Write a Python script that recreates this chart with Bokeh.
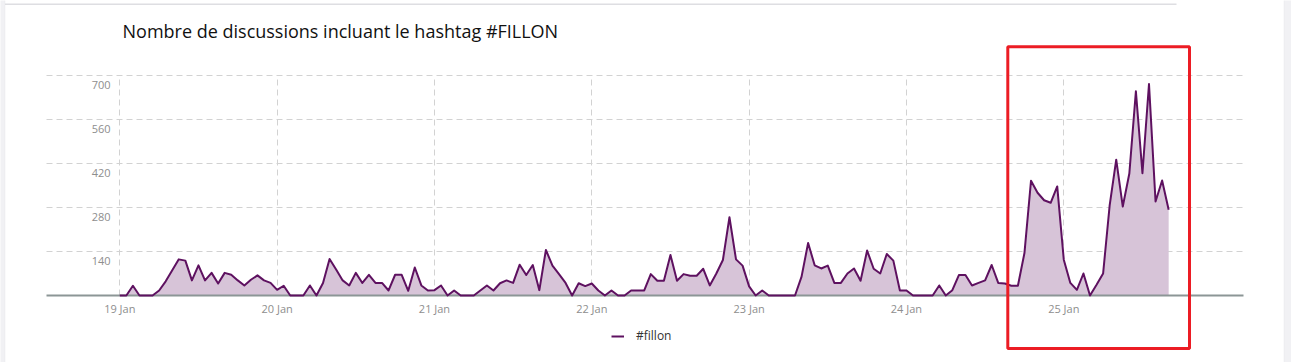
import numpy as np
import pandas as pd
from bokeh.plotting import figure
from bokeh.models import (Range1d, FixedTicker, Label, Legend, LegendItem, BoxAnnotation)
from bokeh.core.properties import value
from bokeh.embed import file_html
from bokeh.resources import INLINE

# ---- data (hourly counts) ----
title_text = "Nombre de discussions incluant le hashtag #FILLON"
series_name = "#fillon"
start_day = "2017-01-19"
day19 = [0, 0, 31, 0, 0, 0, 16, 45, 80, 115, 111, 48, 96, 48, 72, 38, 72, 66, 48, 32, 50, 64, 48, 40]
day20 = [18, 31, 0, 0, 0, 32, 0, 40, 116, 83, 48, 32, 72, 40, 66, 40, 40, 16, 66, 66, 15, 89, 32, 16]
day21 = [17, 32, 0, 16, 0, 0, 0, 16, 32, 16, 39, 48, 40, 98, 65, 97, 17, 145, 95, 68, 40, 0, 39, 30]
day22 = [38, 16, 0, 16, 0, 0, 16, 16, 16, 68, 47, 47, 129, 47, 68, 63, 63, 85, 32, 70, 113, 249, 115, 95]
day23 = [29, 0, 16, 0, 0, 0, 0, 0, 60, 167, 96, 86, 95, 40, 40, 70, 86, 47, 143, 85, 70, 132, 111, 16]
day24 = [16, 0, 0, 0, 0, 32, 0, 17, 65, 65, 32, 40, 48, 97, 40, 38, 31, 31, 135, 365, 327, 303, 295, 347]
day25 = [114, 40, 18, 70, 0, 34, 70, 287, 432, 283, 388, 650, 389, 673, 299, 366, 273]
days = [day19, day20, day21, day22, day23, day24, day25]
y_ticks = [140, 280, 420, 560, 700]

counts = [v for d in days for v in d]
t0 = pd.Timestamp(start_day)
times = pd.date_range(t0, periods=len(counts), freq="h")
day_starts = [t0 + pd.Timedelta(days=k) for k in range(len(days))]
day_labels = [d.strftime("%d %b") for d in day_starts]
def ms(ts):
    return float(ts.value // 10**6)
day_ticks_ms = [ms(d) for d in day_starts]

# ---- canvas geometry (the frame fills the whole canvas) ----
W, H = 1291, 362
X0_PX = 119.3            # pixel of the first day
PX_PER_HOUR = 157.33 / 24
Y0_PX = 295.0            # pixel of value 0
PX_PER_UNIT = 220.0 / 700
HOUR = pd.Timedelta(hours=1)
def xpx(px):
    return t0 + ((px - X0_PX) / PX_PER_HOUR) * HOUR
def ypx(py):
    return (Y0_PX - py) / PX_PER_UNIT

PLOT_L, PLOT_R = xpx(46), xpx(1243)

FONT = "Open Sans"
LINE_C = "#5e1160"
FILL_C = "#d7c4d8"
GRID_C = "#d2d2d2"
LABEL_C = "#8e8e8e"
PAGE_C = "#f1f1f4"
EDGE_C = "#dedee2"

p = figure(width=W, height=H, output_backend="svg", toolbar_location=None,
           x_range=Range1d(xpx(0), xpx(W)), y_range=Range1d(ypx(H), ypx(0)),
           min_border=0)
p.outline_line_color = None
p.xaxis.visible = False
p.yaxis.visible = False

# page panel decorations (left/right gutters, top edge)
p.add_layout(BoxAnnotation(left=xpx(-2), right=xpx(4.5), top=ypx(-2), bottom=ypx(H + 2),
                           fill_color=PAGE_C, fill_alpha=1, line_color=EDGE_C, line_width=1))
p.add_layout(BoxAnnotation(left=xpx(1283.5), right=xpx(W + 2), top=ypx(-2), bottom=ypx(H + 2),
                           fill_color=PAGE_C, fill_alpha=1, line_color=EDGE_C, line_width=1))
p.add_layout(BoxAnnotation(left=xpx(4.5), right=xpx(1176), top=ypx(3), bottom=ypx(4.5),
                           fill_color=EDGE_C, fill_alpha=1, line_alpha=0))

# grids limited to the plotting area
p.xgrid.ticker = FixedTicker(ticks=day_ticks_ms)
p.ygrid.ticker = FixedTicker(ticks=y_ticks)
p.xgrid.cross_bounds = (0, 700)
p.ygrid.cross_bounds = (ms(PLOT_L), ms(PLOT_R))
for g in (p.xgrid, p.ygrid):
    g.grid_line_color = GRID_C
    g.grid_line_dash = "6 4"
    g.grid_line_width = 1

# series
p.varea(x=times, y1=0, y2=counts, fill_color=FILL_C, fill_alpha=1.0)
p.segment(x0=[PLOT_L], x1=[PLOT_R], y0=[0], y1=[0], line_color="#8c9696", line_width=2)
line_r = p.line(x=times, y=counts, line_color=LINE_C, line_width=2, line_join="round")

# y tick labels, below their grid lines
p.text(x=[xpx(110)] * len(y_ticks), y=y_ticks, text=[str(v) for v in y_ticks],
       y_offset=9, text_align="right", text_baseline="middle",
       text_font=value(FONT), text_font_size="11px", text_color=LABEL_C)
# x tick labels
p.text(x=day_starts, y=[0] * len(day_starts), text=day_labels,
       y_offset=13, text_align="center", text_baseline="middle",
       text_font=value(FONT), text_font_size="11px", text_color=LABEL_C)

# title
p.add_layout(Label(x=xpx(122), y=ypx(30), text=title_text,
                   text_font=FONT, text_font_size="18px", text_color="#111111",
                   text_baseline="middle", text_align="left"))

# legend below the plot
legend = Legend(items=[LegendItem(label=series_name, renderers=[line_r])],
                location=(611, H - 344), orientation="horizontal",
                glyph_width=13, glyph_height=16, label_standoff=12, padding=0, margin=0,
                border_line_color=None, background_fill_alpha=0,
                label_text_font=FONT, label_text_font_size="12px", label_text_color="#333333")
p.add_layout(legend, "center")

# red highlight rectangle
p.add_layout(BoxAnnotation(left=xpx(1007.3), right=xpx(1189), top=ypx(46.3), bottom=ypx(348),
                           fill_alpha=0, line_color="#ec1c24", line_width=3, line_alpha=1))

open("out.html", "w").write(file_html(p, INLINE))
